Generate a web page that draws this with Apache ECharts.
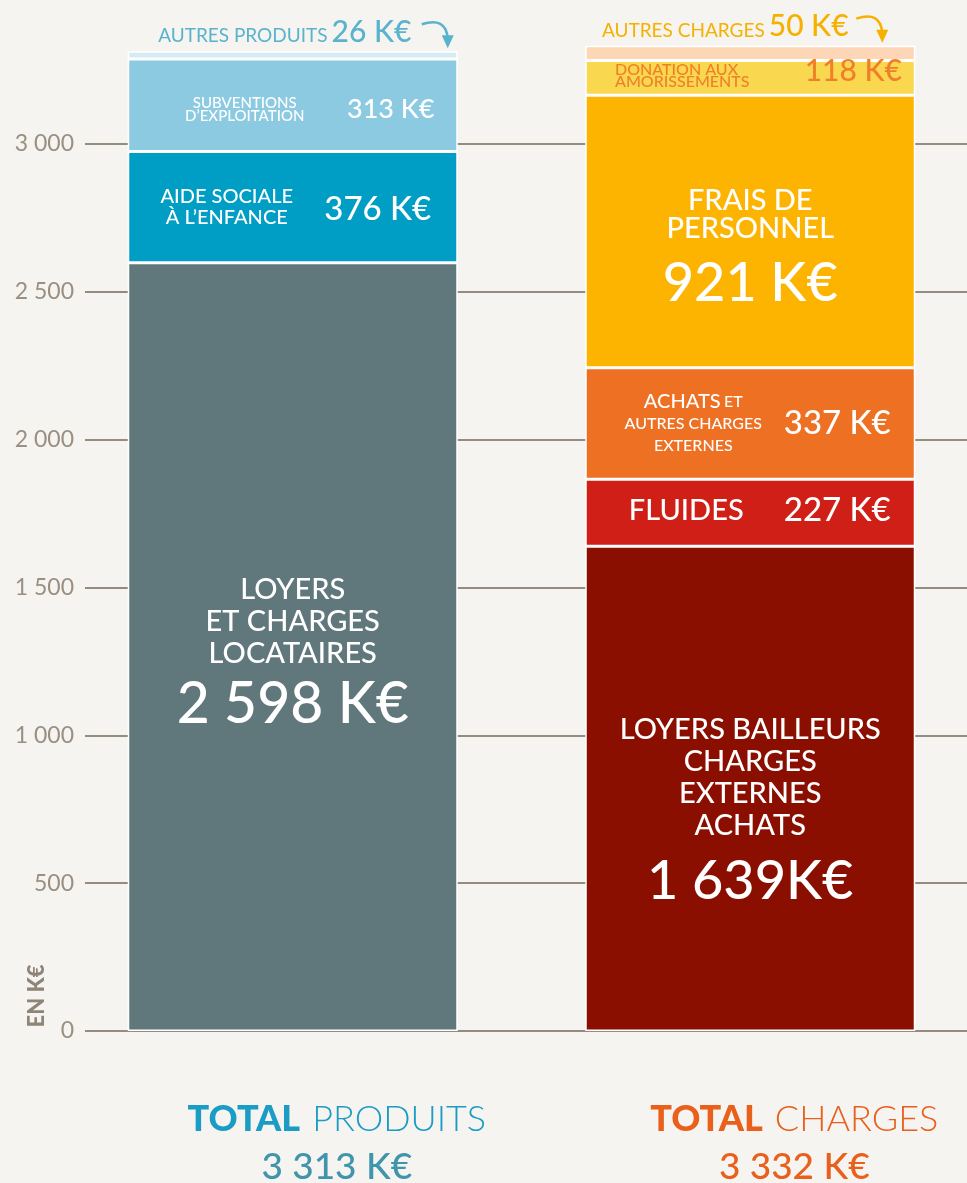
<!DOCTYPE html>
<html>
<head>
<meta charset="utf-8">
<script src="https://cdn.jsdelivr.net/npm/echarts@6/dist/echarts.min.js"></script>
<style>
  html, body { margin: 0; padding: 0; background: #f5f3ef; }
  #chart { width: 967px; height: 1183px; }
</style>
</head>
<body>
<div id="chart"></div>
<script>
// data
const categories = ['Produits', 'Charges']

const produitsNames = ['LOYERS\nET CHARGES\nLOCATAIRES', 'AIDE SOCIALE\nÀ L’ENFANCE', 'SUBVENTIONS\nD’EXPLOITATION', 'AUTRES PRODUITS']
const produitsValues = [2598, 376, 313, 26]
const produitsLabels = ['2 598 K€', '376 K€', '313 K€', '26 K€']

const chargesNames = ['LOYERS BAILLEURS\nCHARGES\nEXTERNES\nACHATS', 'FLUIDES', 'ACHATS et\nAUTRES CHARGES\nEXTERNES', 'FRAIS DE\nPERSONNEL', 'DONATION AUX\nAMORISSEMENTS', 'AUTRES CHARGES']
const chargesValues = [1639, 227, 377, 921, 118, 50]
const chargesLabels = ['1 639K€', '227 K€', '337 K€', '921 K€', '118 K€', '50 K€']

const totals = [3313, 3332]
const totalWords = ['PRODUITS', 'CHARGES']
const yTicks = [0, 500, 1000, 1500, 2000, 2500, 3000]

// styles, one per segment
const FONT = 'Lato, "Open Sans", sans-serif'
const produitsStyle = [
  { color: '#60787b', layout: 'center', nameSize: 29, lh: 32, valSize: 57, valLh: 70, dy: 10 },
  { color: '#009dc4', layout: 'side', nameSize: 20, lh: 21, nx: -66, dy: 0, valSize: 33, vx: 85, vy: 2 },
  { color: '#8ccae2', layout: 'side', nameSize: 15, lh: 13, nx: -48, dy: 4, valSize: 27, vx: 98, vy: 4 },
  { color: '#d6ecf4', layout: 'top', text: '#5ab3cc', nameSize: 19, valSize: 30, dx: -8 },
]
const chargesStyle = [
  { color: '#8b0f00', layout: 'center', nameSize: 29, lh: 32, valSize: 54, valLh: 80, dy: 29 },
  { color: '#d01f17', layout: 'side', nameSize: 29, lh: 30, nx: -64, dy: -2, valSize: 33, vx: 87, vy: -2 },
  { color: '#ee7023', layout: 'side', nameSize: 16, lh: 22, nx: -57, dy: 0, valSize: 33, vx: 87, vy: 0, small: true },
  { color: '#fdb400', layout: 'center', nameSize: 29, lh: 28, valSize: 54, valLh: 82, dy: 24 },
  { color: '#f9d84f', layout: 'side', text: '#ef7f2b', nameSize: 16, lh: 12, nx: -68, dy: -2, valSize: 30, vx: 103, vy: -7, left: true },
  { color: '#fdd6b5', layout: 'top', text: '#f6b100', nameSize: 19, valSize: 30, dx: -25 },
]

function nameRich(st) {
  const c = st.text || '#ffffff'
  return {
    n: { fontFamily: FONT, fontSize: st.nameSize, lineHeight: st.lh, color: c, fontWeight: 500, align: st.left ? 'left' : 'center' },
    b: { fontFamily: FONT, fontSize: 20, lineHeight: st.lh, color: c, fontWeight: 500 },
    v: { fontFamily: FONT, fontSize: st.valSize, lineHeight: st.valLh || st.valSize, color: c, fontWeight: 500 },
  }
}

function buildSeries(catIndex, names, values, labels, styles) {
  const out = []
  values.forEach((val, i) => {
    const st = styles[i]
    const data = categories.map((c, k) => (k === catIndex ? val : '-'))
    let label
    if (st.layout === 'center') {
      label = {
        show: true, position: 'inside', offset: [0, st.dy],
        formatter: `{n|${names[i]}}\n{v|${labels[i]}}`,
        rich: nameRich(st),
      }
    } else if (st.layout === 'top') {
      label = {
        show: true, position: 'top', distance: 4, offset: [st.dx, 0],
        formatter: `{n|${names[i]}}{v|${labels[i]}}`,
        rich: {
          n: { fontFamily: FONT, fontSize: st.nameSize, color: st.text, padding: [8, 4, 0, 0] },
          v: { fontFamily: FONT, fontSize: st.valSize, color: st.text, fontWeight: 500 },
        },
      }
    } else {
      let txt = `{n|${names[i]}}`
      if (st.small) {
        const lines = names[i].split('\n')
        const first = lines[0].split(' ')
        txt = `{b|${first[0]}} {n|${first[1].toUpperCase()}}\n` + lines.slice(1).map((l) => `{n|${l}}`).join('\n')
      }
      label = {
        show: true, position: 'inside', offset: [st.nx, st.dy],
        formatter: txt, rich: nameRich(st),
      }
    }
    out.push({
      type: 'bar', name: names[i], stack: 'main', data,
      xAxisIndex: 1, yAxisIndex: 1, barWidth: 330, barGap: '-100%',
      itemStyle: { color: st.color, borderColor: '#ffffff', borderWidth: 1.5 },
      label, silent: true,
    })
    // value on the right hand side of the segment
    out.push({
      type: 'bar', name: names[i] + ' valeur', stack: 'vals', data,
      xAxisIndex: 1, yAxisIndex: 1, barWidth: 330, barGap: '-100%',
      itemStyle: { color: 'rgba(0,0,0,0)' },
      label: {
        show: st.layout === 'side', position: 'inside', offset: [st.vx || 0, st.vy || 0],
        formatter: labels[i], fontFamily: FONT, fontSize: st.valSize, fontWeight: 500,
        color: st.text || '#ffffff',
      },
      silent: true, z: 3,
    })
  })
  return out
}

const fmtK = (v) => String(v).replace(/\B(?=(\d{3})+(?!\d))/g, ' ')

const series = [
  ...buildSeries(0, produitsNames, produitsValues, produitsLabels, produitsStyle),
  ...buildSeries(1, chargesNames, chargesValues, chargesLabels, chargesStyle),
]

const totalColors = ['#1a9cc4', '#e8601c']
const totalValueColors = ['#3f95ab', '#e8601c']

const chart = echarts.init(document.getElementById('chart'))
chart.setOption({
  backgroundColor: '#f6f4f0',
  animation: false,
  grid: [
    { left: 85, right: 0, top: -4, bottom: 152, outerBoundsMode: 'none', containLabel: false },
    { left: 64, right: -12, top: -4, bottom: 152, outerBoundsMode: 'none', containLabel: false },
  ],
  xAxis: [
    { gridIndex: 0, type: 'category', data: categories, show: false },
    {
      gridIndex: 1, type: 'category', data: categories,
      axisLine: { show: false }, axisTick: { show: false },
      axisLabel: {
        margin: 64,
        padding: [0, 0, 0, 88],
        formatter: (v, idx) => `{t${idx}|TOTAL}{w${idx}|${totalWords[idx]}}\n{v${idx}|${fmtK(totals[idx])} K€}`,
        rich: Object.fromEntries(totalColors.flatMap((c, k) => [
          ['t' + k, { fontFamily: FONT, fontSize: 36, fontWeight: 900, color: c, padding: [0, 12, 0, 0] }],
          ['w' + k, { fontFamily: FONT, fontSize: 36, fontWeight: 300, color: c, lineHeight: 48 }],
          ['v' + k, { fontFamily: FONT, fontSize: 37, fontWeight: 500, color: totalValueColors[k], lineHeight: 48 }],
        ])),
      },
    },
  ],
  yAxis: [
    {
      gridIndex: 0, type: 'value', min: 0, max: 3500, interval: 500,
      axisLine: { show: false }, axisTick: { show: false },
      axisLabel: {
        margin: 11, fontFamily: FONT, fontSize: 23, fontWeight: 400, color: '#9a8f80',
        formatter: (v) => (yTicks.includes(v) ? fmtK(v) : ''),
      },
      splitLine: { lineStyle: { color: '#958b7e', width: 2 } },
    },
    { gridIndex: 1, type: 'value', min: 0, max: 3500, interval: 500, show: false },
  ],
  series,
})

// small curved arrows pointing at the thin top segments
function arrowAt(catIndex, total, color, back) {
  const p = chart.convertToPixel({ xAxisIndex: 1, yAxisIndex: 1 }, [categories[catIndex], total])
  const tipX = p[0] + 165 - back
  const tipY = p[1] - 3
  return [
    {
      type: 'bezierCurve',
      shape: { x1: tipX - 26, y1: tipY - 24, x2: tipX, y2: tipY - 10, cpx1: tipX - 2, cpy1: tipY - 32 },
      style: { stroke: color, lineWidth: 2.5, fill: null },
    },
    {
      type: 'polygon',
      shape: { points: [[tipX - 6, tipY - 13], [tipX + 6, tipY - 13], [tipX, tipY]] },
      style: { fill: color },
    },
  ]
}
chart.setOption({
  graphic: [
    ...arrowAt(0, totals[0], '#5ab3cc', 10),
    ...arrowAt(1, totals[1], '#f6b100', 33),
    {
      type: 'text', x: 37, y: 996, rotation: Math.PI / 2,
      style: { text: 'EN K€', fontFamily: FONT, fontSize: 22, fontWeight: 900, fill: '#8f8577', align: 'center', verticalAlign: 'middle' },
    },
  ],
})
</script>
</body>
</html>
